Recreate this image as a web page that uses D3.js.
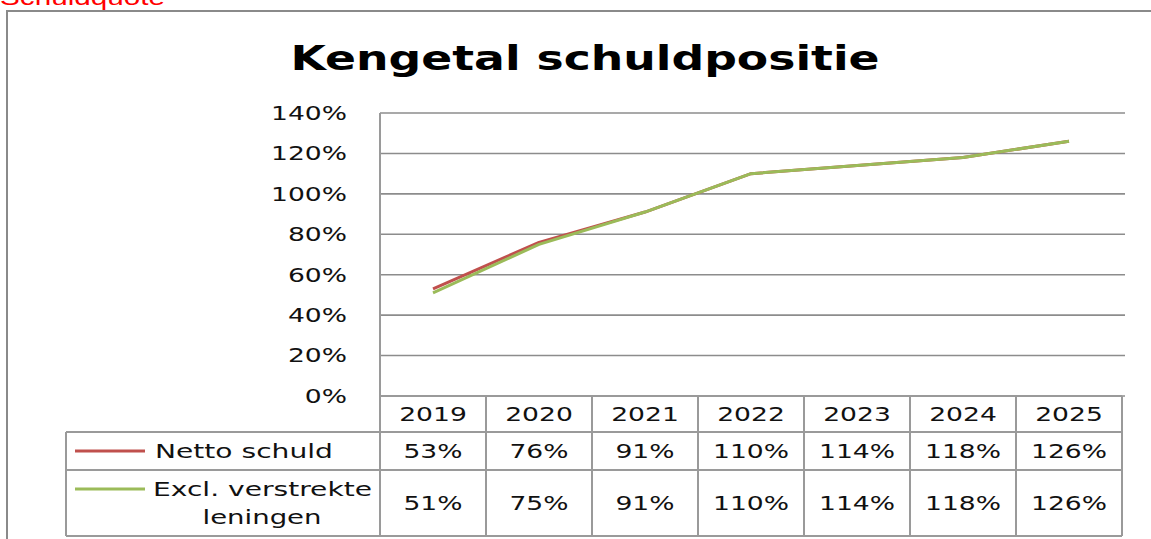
<!DOCTYPE html>
<html>
<head>
<meta charset="utf-8">
<script src="https://cdn.jsdelivr.net/npm/d3@7"></script>
<style>
  body { margin: 0; background: #fff; }
  text { font-family: "DejaVu Sans", Verdana, sans-serif; fill: #111; }
</style>
</head>
<body>
<div id="chart"></div>
<script>
// data
var years = ["2019", "2020", "2021", "2022", "2023", "2024", "2025"];
var nettoSchuld = [53, 76, 91, 110, 114, 118, 126];
var exclLeningen = [51, 75, 91, 110, 114, 118, 126];
var yTicks = [0, 20, 40, 60, 80, 100, 120, 140];
var seriesNames = ["Netto schuld", "Excl. verstrekte leningen"];

var W = 1151, H = 539;
var sx = 1.4; // the source picture is stretched sideways

var svg = d3.select("#chart")
  .append("svg")
    .attr("width", W)
    .attr("height", H);

// plot area
var plot = {left: 380, right: 1122, top: 113, bottom: 396};
var table = {left: 66, row1: 432, row2: 470, bottom: 536};

var xScale = d3.scaleBand()
    .domain(years)
    .range([plot.left, plot.right]);

var yScale = d3.scaleLinear()
    .domain([0, 140])
    .range([plot.bottom, plot.top]);

const stretchedText = (parent, x, y, str, opts) => {
    opts = opts || {};
    var g = parent.append("g")
        .attr("transform", "translate(" + x + "," + y + ") scale(" + (opts.sx || sx) + ",1)");
    return g.append("text")
        .attr("text-anchor", opts.anchor || "middle")
        .attr("dy", opts.dy === undefined ? "0.36em" : opts.dy)
        .style("font-size", (opts.size || 19) + "px")
        .style("font-weight", opts.weight || "normal")
        .style("fill", opts.fill || "#111")
        .style("font-family", opts.family || null)
        .text(str);
};

// red heading, cut off at the top like in the source screenshot
stretchedText(svg, 0, 5, "Schuldquote",
    {anchor: "start", dy: 0, size: 22, fill: "#ff0000", sx: 1.35, family: "'Liberation Sans', Arial, sans-serif"});

// outer frame
svg.append("rect")
    .attr("x", 7).attr("y", 11)
    .attr("width", W + 20).attr("height", H + 20)
    .style("fill", "none")
    .style("stroke", "#8a8a8a")
    .style("stroke-width", 2);

// title
stretchedText(svg, 585, 70, "Kengetal schuldpositie",
    {dy: 0, size: 34, weight: "bold", sx: 1.344, fill: "#000"});

// gridlines
svg.append("g")
  .selectAll("line")
  .data(yTicks)
  .enter()
  .append("line")
    .attr("x1", plot.left)
    .attr("x2", plot.right + 3)
    .attr("y1", d => yScale(d))
    .attr("y2", d => yScale(d))
    .style("stroke", "#8c8c8c")
    .style("stroke-width", 1.6);

// y tick labels
yTicks.forEach(function(t) {
    stretchedText(svg, 347, yScale(t), t + "%", {anchor: "end"});
});

// data table borders
var borderColor = "#9a9a9a";
var borders = svg.append("g")
    .style("stroke", borderColor)
    .style("stroke-width", 2);

// horizontal rules
[[plot.left, plot.bottom], [table.left, table.row1], [table.left, table.row2], [table.left, table.bottom]]
  .forEach(function(r) {
    borders.append("line")
        .attr("x1", r[0]).attr("x2", plot.right)
        .attr("y1", r[1]).attr("y2", r[1]);
  });

// plot left edge + column separators
borders.append("line")
    .attr("x1", plot.left).attr("x2", plot.left)
    .attr("y1", plot.top).attr("y2", table.bottom);
borders.selectAll("line.col")
  .data(years)
  .enter()
  .append("line")
    .attr("class", "col")
    .attr("x1", d => xScale(d) + xScale.bandwidth())
    .attr("x2", d => xScale(d) + xScale.bandwidth())
    .attr("y1", plot.bottom)
    .attr("y2", table.bottom);
borders.append("line")
    .attr("x1", table.left).attr("x2", table.left)
    .attr("y1", table.row1).attr("y2", table.bottom);

// header + values
var cx = d => xScale(d) + xScale.bandwidth() / 2;
var row1Mid = (table.row1 + table.row2) / 2;
var row2Mid = (table.row2 + table.bottom) / 2;

years.forEach(function(y, i) {
    stretchedText(svg, cx(y), (plot.bottom + table.row1) / 2, y);
    stretchedText(svg, cx(y), row1Mid, nettoSchuld[i] + "%");
    stretchedText(svg, cx(y), row2Mid, exclLeningen[i] + "%");
});

// lines
var colors = ["#c0504d", "#9bbb59"];
var lineGen = d3.line()
    .x((d, i) => cx(years[i]))
    .y(d => yScale(d));

[nettoSchuld, exclLeningen].forEach(function(s, k) {
    svg.append("path")
        .datum(s)
        .attr("d", lineGen)
        .style("fill", "none")
        .style("stroke", colors[k])
        .style("stroke-width", 3)
        .style("stroke-linejoin", "round");
});

// legend keys
[row1Mid, 489].forEach(function(y, k) {
    svg.append("line")
        .attr("x1", 75).attr("x2", 145)
        .attr("y1", y).attr("y2", y)
        .style("stroke", colors[k])
        .style("stroke-width", 3);
});

// legend labels
stretchedText(svg, 155, row1Mid, seriesNames[0], {anchor: "start", sx: 1.48});
stretchedText(svg, 153, 489, "Excl. verstrekte", {anchor: "start", sx: 1.48});
stretchedText(svg, 262, 517, "leningen", {sx: 1.45});
</script>
</body>
</html>
